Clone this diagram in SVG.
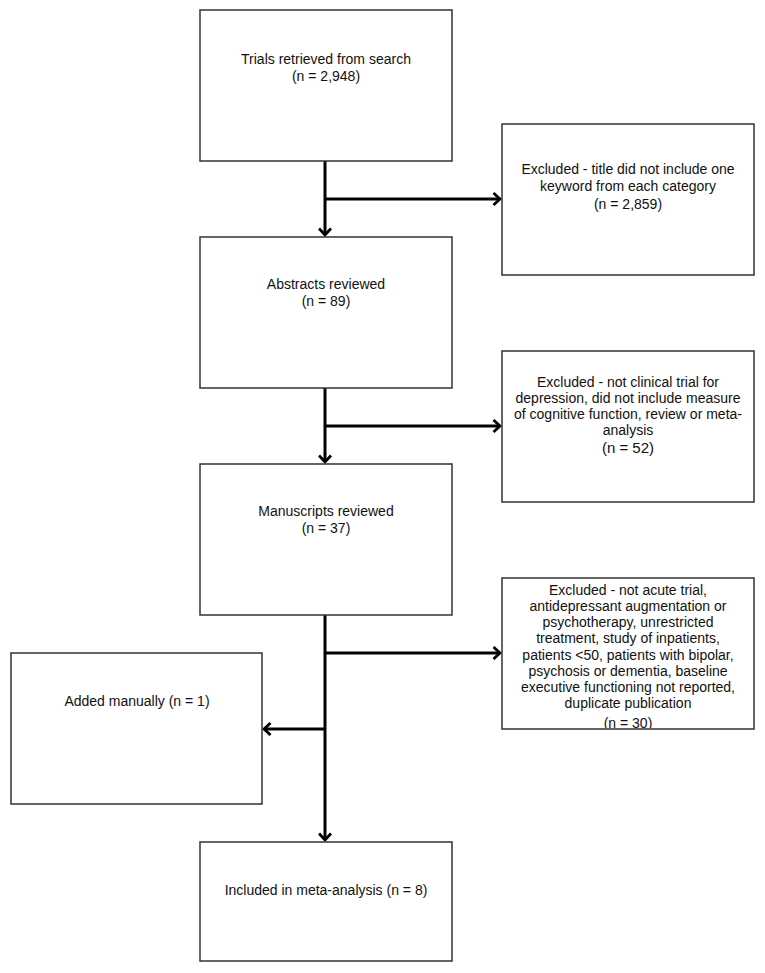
<svg xmlns="http://www.w3.org/2000/svg" width="765" height="973" viewBox="0 0 765 973">
<style>
.box{fill:#fff;stroke:#333;stroke-width:1.5}
.t{font-family:"Liberation Sans",Arial,sans-serif;font-size:14px;fill:#111;text-anchor:middle}
.c{fill:none;stroke:#000;stroke-width:3}
</style>
<defs>
<marker id="ah" markerWidth="12" markerHeight="14" refX="8" refY="7" orient="auto" markerUnits="userSpaceOnUse" viewBox="0 0 12 14">
<path d="M1.5,1 L8,7 L1.5,13" fill="none" stroke="#000" stroke-width="2.8"/>
</marker>
<clipPath id="cl3"><rect x="502" y="578" width="252" height="150"/></clipPath>
</defs>
<rect width="765" height="973" fill="#fff"/>
<g id="connectors">
<path class="c" d="M325,161 V235" marker-end="url(#ah)"/>
<path class="c" d="M325,199 H500" marker-end="url(#ah)"/>
<path class="c" d="M325,388 V462" marker-end="url(#ah)"/>
<path class="c" d="M325,426 H500" marker-end="url(#ah)"/>
<path class="c" d="M325,615 V840" marker-end="url(#ah)"/>
<path class="c" d="M325,653 H500" marker-end="url(#ah)"/>
<path class="c" d="M325,729 H264" marker-end="url(#ah)"/>
</g>
<g id="trials">
<rect class="box" x="200" y="10" width="252" height="151"/>
<text class="t" x="326" y="64">Trials retrieved from search</text>
<text class="t" x="326" y="81">(n = 2,948)</text>
</g>
<g id="excluded1">
<rect class="box" x="502" y="124" width="252" height="151"/>
<text class="t" x="628" y="174">Excluded - title did not include one</text>
<text class="t" x="628" y="191">keyword from each category</text>
<text class="t" x="628" y="209">(n = 2,859)</text>
</g>
<g id="abstracts">
<rect class="box" x="200" y="237" width="252" height="151"/>
<text class="t" x="326" y="289">Abstracts reviewed</text>
<text class="t" x="326" y="306">(n = 89)</text>
</g>
<g id="excluded2">
<rect class="box" x="502" y="351" width="252" height="151"/>
<text class="t" x="628" y="387">Excluded - not clinical trial for</text>
<text class="t" x="628" y="403">depression, did not include measure</text>
<text class="t" x="628" y="419">of cognitive function, review or meta-</text>
<text class="t" x="628" y="435">analysis</text>
<text class="t" x="628" y="453" style="font-size:15px">(n = 52)</text>
</g>
<g id="manuscripts">
<rect class="box" x="200" y="464" width="252" height="151"/>
<text class="t" x="326" y="516">Manuscripts reviewed</text>
<text class="t" x="326" y="533">(n = 37)</text>
</g>
<g id="excluded3">
<rect class="box" x="502" y="578" width="252" height="151"/>
<g clip-path="url(#cl3)">
<text class="t" x="628" y="595">Excluded - not acute trial,</text>
<text class="t" x="628" y="611">antidepressant augmentation or</text>
<text class="t" x="628" y="627">psychotherapy, unrestricted</text>
<text class="t" x="628" y="643">treatment, study of inpatients,</text>
<text class="t" x="628" y="660">patients &lt;50, patients with bipolar,</text>
<text class="t" x="628" y="676">psychosis or dementia, baseline</text>
<text class="t" x="628" y="692">executive functioning not reported,</text>
<text class="t" x="628" y="708">duplicate publication</text>
<text class="t" x="628" y="728">(n = 30)</text>
</g>
</g>
<g id="added">
<rect class="box" x="11" y="653" width="251" height="151"/>
<text class="t" x="137" y="706">Added manually (n = 1)</text>
</g>
<g id="included">
<rect class="box" x="200" y="842" width="252" height="119"/>
<text class="t" x="326" y="895">Included in meta-analysis (n = 8)</text>
</g>
</svg>
